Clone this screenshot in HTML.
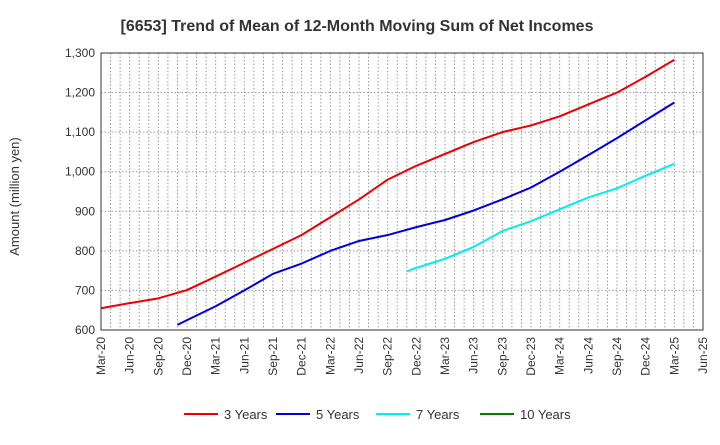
<!DOCTYPE html>
<html><head><meta charset="utf-8"><style>
body{margin:0;background:#fff;font-family:"Liberation Sans",sans-serif}
svg text{font-family:"Liberation Sans",sans-serif}
</style></head><body>
<svg id="c" width="720" height="440" xmlns="http://www.w3.org/2000/svg"></svg>
<script>
const xLabels=["Mar-20","Jun-20","Sep-20","Dec-20","Mar-21","Jun-21","Sep-21","Dec-21","Mar-22","Jun-22","Sep-22","Dec-22","Mar-23","Jun-23","Sep-23","Dec-23","Mar-24","Jun-24","Sep-24","Dec-24","Mar-25","Jun-25"];
const yTicks=[600,700,800,900,1000,1100,1200,1300];
const s3Months=[0,3,6,9,12,15,18,21,24,27,30,33,36,39,42,45,48,51,54,57,60];
const s3Values=[655,668,680,701,735,770,805,840,885,930,980,1015,1045,1075,1100,1117,1140,1170,1200,1240,1283];
const s5Months=[8,9,12,15,18,21,24,27,30,33,36,39,42,45,48,51,54,57,60];
const s5Values=[613,625,660,700,742,768,800,825,840,860,878,902,930,960,1000,1042,1085,1130,1175];
const s7Months=[32,33,36,39,42,45,48,51,54,57,60];
const s7Values=[748,757,780,810,850,875,905,935,958,990,1020];
const s10Months=[];
const s10Values=[];
const L=101,R=703,T=53,B=330,yMin=600,yMax=1300,nM=63;
const X=m=>L+(R-L)*m/nM, Y=v=>B-(B-T)*(v-yMin)/(yMax-yMin);
const svg=document.getElementById('c');const NS="http://www.w3.org/2000/svg";
function mk(t,a,p){const e=document.createElementNS(NS,t);for(const k in a)e.setAttribute(k,a[k]);(p||svg).appendChild(e);return e;}
const title=mk('text',{x:357,y:31,'text-anchor':'middle','font-size':16,'font-weight':'bold',fill:'#333'});


title.textContent='[6653]  Trend of Mean of 12-Month Moving Sum of Net Incomes';
for(let m=1;m<nM;m++){const g=mk('line',{x1:X(m),x2:X(m),y1:T,y2:B,stroke:'#999','stroke-dasharray':'1.5,2','stroke-width':1});

}
yTicks.forEach(v=>{const g=mk('line',{x1:L,x2:R,y1:Y(v),y2:Y(v),stroke:'#999','stroke-dasharray':'1.5,2','stroke-width':1});


const t=mk('text',{x:L-6,y:Y(v)+4,'text-anchor':'end','font-size':12,fill:'#333'});


t.textContent=v.toLocaleString('en-US');});
const fr=mk('rect',{x:L,y:T,width:R-L,height:B-T,fill:'none',stroke:'#333','stroke-width':1});


xLabels.forEach((s,i)=>{const x=X(i*3);const t=mk('text',{x:0,y:0,'text-anchor':'end','font-size':12,fill:'#333',transform:`translate(${x+4},${B+7}) rotate(-90)`});


t.textContent=s;});
const yt=mk('text',{x:0,y:0,'text-anchor':'middle','font-size':13,fill:'#333',transform:`translate(19,${(T+B)/2+5}) rotate(-90)`});


yt.textContent='Amount (million yen)';
const series=[[s3Months,s3Values,'#e00','3 Years','line-3-years'],[s5Months,s5Values,'#0000e0','5 Years','line-5-years'],[s7Months,s7Values,'#00eeee','7 Years','line-7-years'],[s10Months,s10Values,'#008000','10 Years','line-10-years']];
series.forEach(([ms,vs,c,lab,nm],i)=>{
 if(ms.length){const p=mk('polyline',{points:ms.map((m,j)=>X(m)+','+Y(vs[j])).join(' '),fill:'none',stroke:c,'stroke-width':2,'stroke-linejoin':'round'});
 
 }
 const lx=[184,276,376,480][i];
 const g=mk('g',{});
 
 
 mk('line',{x1:lx,x2:lx+34,y1:414,y2:414,stroke:c,'stroke-width':2},g);
 const t=mk('text',{x:lx+40,y:419,'font-size':13,fill:'#333'},g);t.textContent=lab;
});
</script>
</body></html>
